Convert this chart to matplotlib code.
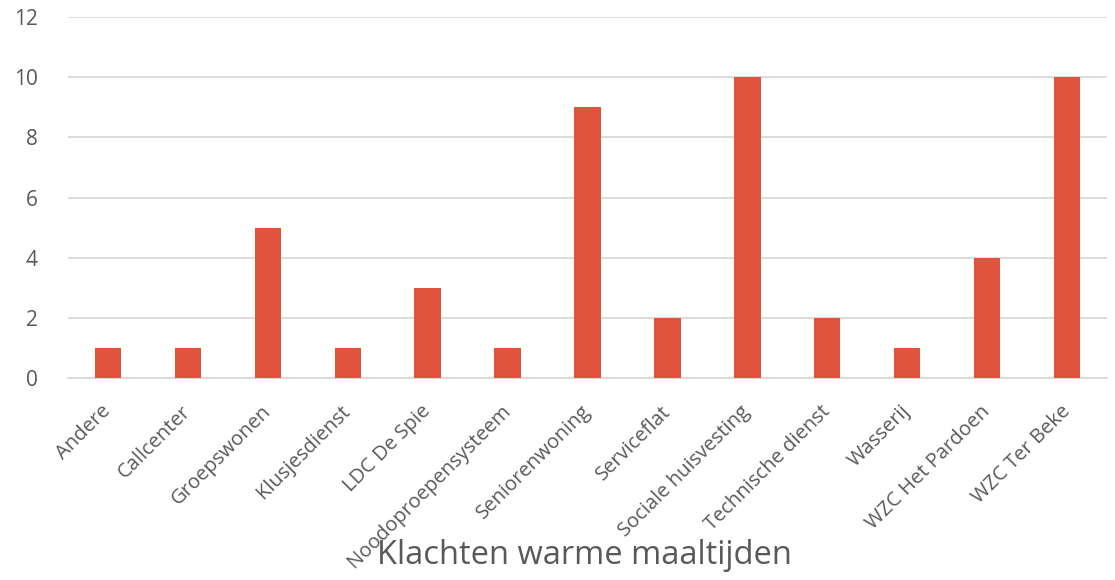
import matplotlib
matplotlib.use("Agg")
import matplotlib.pyplot as plt

categories = ["Andere", "Callcenter", "Groepswonen", "Klusjesdienst", "LDC De Spie",
              "Noodoproepensysteem", "Seniorenwoning", "Serviceflat", "Sociale huisvesting",
              "Technische dienst", "Wasserij", "WZC Het Pardoen", "WZC Ter Beke"]
values = [1, 1, 5, 1, 3, 1, 9, 2, 10, 2, 1, 4, 10]
yticks = [0, 2, 4, 6, 8, 10, 12]
title = "Klachten warme maaltijden"

plt.rcParams['font.family'] = ['Open Sans', 'DejaVu Sans']
txt = '#595959'

fig = plt.figure(figsize=(11.15, 5.8), dpi=100)
ax = fig.add_axes([68/1115, 1-378/580, (1107-68)/1115, (378-17)/580])
x = list(range(len(categories)))
ax.bar(x, values, width=0.33, color='#E0533D', zorder=3)
ax.set_xlim(-0.5, len(categories)-0.5)
ax.set_ylim(0, 12)
ax.set_yticks(yticks)
ax.set_yticklabels([str(v) for v in yticks], fontsize=15, color=txt)
ax.set_xticks(x)
ax.set_xticklabels(categories, rotation=45, ha='right', va='center',
                   rotation_mode='anchor', fontsize=14.5, color=txt)
ax.tick_params(axis='both', length=0)
ax.tick_params(axis='y', pad=22)
ax.tick_params(axis='x', pad=22)
ax.grid(axis='y', color='#D9D9D9', linewidth=1.3, zorder=0)
for s in ['top', 'right', 'left']:
    ax.spines[s].set_visible(False)
ax.spines['bottom'].set_color('#D9D9D9')
ax.spines['bottom'].set_linewidth(1.3)
fig.text(584/1115, 1-555/580, title, ha='center', va='center', fontsize=23.5, color=txt)
fig.savefig("out.png", dpi=100)
